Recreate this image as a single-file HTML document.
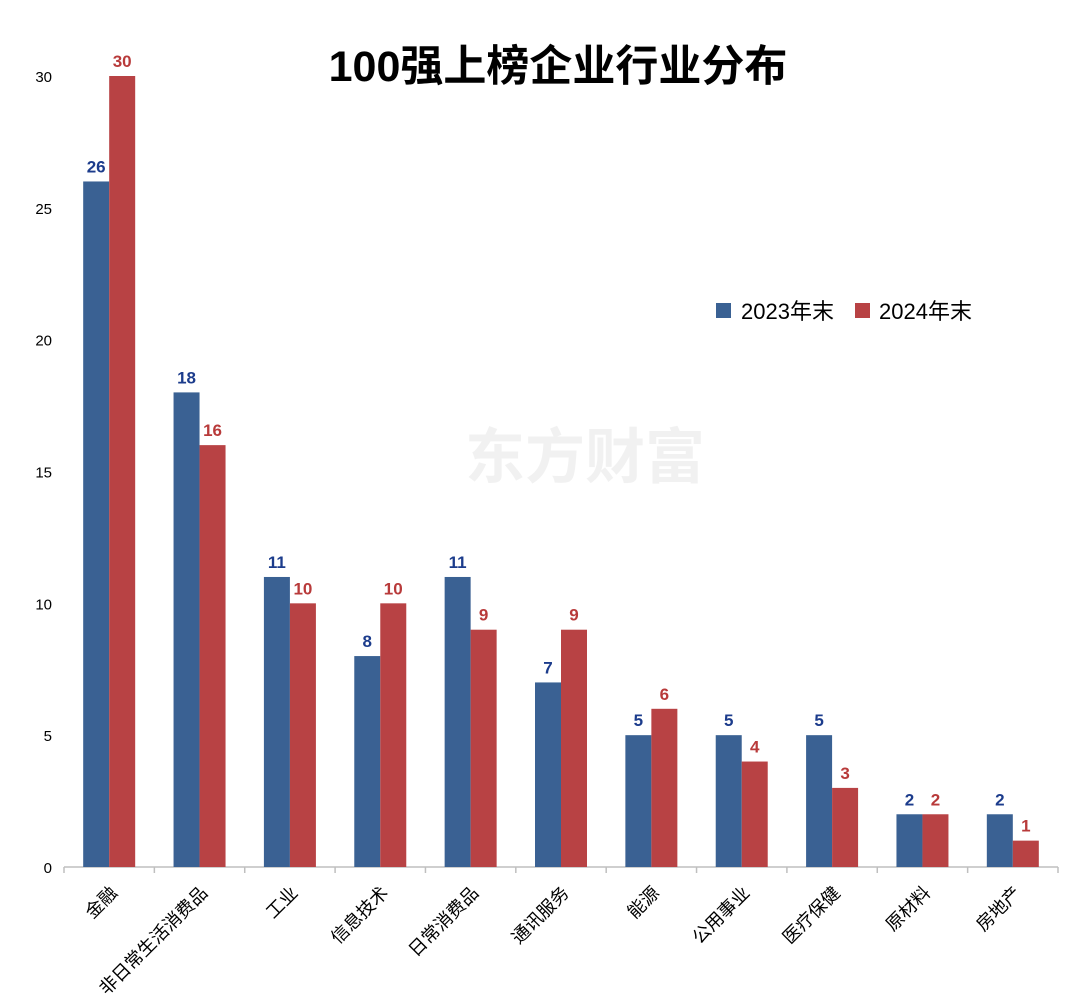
<!DOCTYPE html>
<html><head><meta charset="utf-8"><style>
body{margin:0;background:#fff;}
svg{display:block;font-family:"Liberation Sans","Noto Sans CJK SC",sans-serif;}
</style></head><body>
<svg id="chart" width="1080" height="1006" viewBox="0 0 1080 1006">
<text x="558" y="81" text-anchor="middle" font-size="43" font-weight="bold" fill="#000">100强上榜企业行业分布</text>
<text x="585" y="478" text-anchor="middle" font-size="60" font-weight="bold" fill="#000" opacity="0.05">东方财富</text>
<g id="yaxis"></g>
<g id="xaxis"></g>
<g id="bars"></g>
<g>
<rect x="716" y="303" width="15" height="15" fill="#3a6193"/>
<text x="741" y="319" font-size="22" fill="#000">2023年末</text>
<rect x="855" y="303" width="15" height="15" fill="#b84244"/>
<text x="879" y="319" font-size="22" fill="#000">2024年末</text>
</g>
</svg>
<script>
const categories=["金融","非日常生活消费品","工业","信息技术","日常消费品","通讯服务","能源","公用事业","医疗保健","原材料","房地产"];
const values2023=[26,18,11,8,11,7,5,5,5,2,2];
const values2024=[30,16,10,10,9,9,6,4,3,2,1];
const yTicks=[0,5,10,15,20,25,30];
const NS="http://www.w3.org/2000/svg";
const x0=64,x1=1058,y0=867,yTop=76,ymax=30;
const band=(x1-x0)/categories.length;
const yS=v=>y0-(y0-yTop)*v/ymax;
const xC=i=>x0+band*(i+0.5);
function mk(tag,attrs,parent){const e=document.createElementNS(NS,tag);for(const k in attrs)e.setAttribute(k,attrs[k]);parent.appendChild(e);return e;}
const ya=document.getElementById('yaxis'),xa=document.getElementById('xaxis'),bg=document.getElementById('bars');
yTicks.forEach(t=>{const e=mk('text',{x:52,y:yS(t)+6,'text-anchor':'end','font-size':15,fill:'#000'},ya);e.textContent=t;

});
const ax=mk('line',{x1:x0,y1:y0,x2:x1,y2:y0,stroke:'#bfbfbf','stroke-width':1.5},xa);


for(let i=0;i<=categories.length;i++){const t=mk('line',{x1:x0+band*i,y1:y0,x2:x0+band*i,y2:y0+6,stroke:'#bfbfbf','stroke-width':1.5},xa);

}
const bw=26;
categories.forEach((c,i)=>{
 const cx=xC(i);
 const lab=mk('text',{x:0,y:0,'text-anchor':'end','font-size':18,fill:'#000',transform:`translate(${cx+9},${y0+27}) rotate(-45)`},xa);
 lab.textContent=c;
 
 
 [[values2023[i],cx-bw,'#3a6193','#1c3c8c','2023'],[values2024[i],cx,'#b84244','#b83a3a','2024']].forEach(([v,x,col,tc,s])=>{
  const r=mk('rect',{x:x,y:yS(v),width:bw,height:y0-yS(v),fill:col},bg);
  
  
  const t=mk('text',{x:x+bw/2,y:yS(v)-9,'text-anchor':'middle','font-size':17,'font-weight':'bold',fill:tc},bg);
  t.textContent=v;
  
  
 });
});
</script>
</body></html>
